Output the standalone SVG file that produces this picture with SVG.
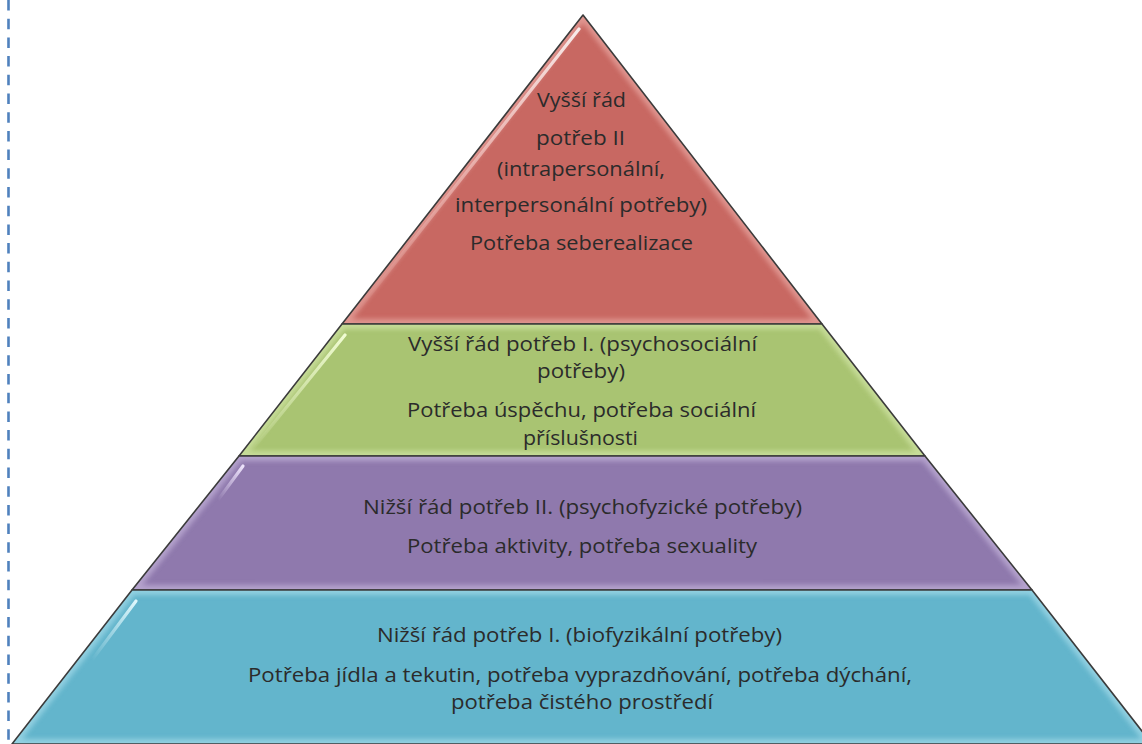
<svg xmlns="http://www.w3.org/2000/svg" width="1142" height="744" viewBox="0 0 1142 744">
  <style>
    .outline { stroke: #3b3b3b; stroke-width: 1.6; stroke-linejoin: round; }
    .glow { fill: none; stroke-width: 10; filter: url(#blur); }
    .t { font-family: "Open Sans", "Liberation Sans", sans-serif; font-size: 20px; fill: #2b2b2b; text-anchor: middle; }
    .hl { fill: none; stroke-width: 3.2; stroke-linecap: round; }
  </style>
  <defs>
    <filter id="blur" x="-10%" y="-10%" width="120%" height="120%">
      <feGaussianBlur stdDeviation="2.5"/>
    </filter>
    <clipPath id="cRed"><polygon points="583,15 822,324 342,324"/></clipPath>
    <clipPath id="cGreen"><polygon points="342,324 822,324 925,456 239,456"/></clipPath>
    <clipPath id="cPurple"><polygon points="239,456 925,456 1032,590 132,590"/></clipPath>
    <clipPath id="cBlue"><polygon points="132,590 1032,590 1152,744 12,744"/></clipPath>
    <linearGradient id="hlRed" x1="1" y1="0" x2="0" y2="1">
      <stop offset="0" stop-color="#ffffff" stop-opacity="0.85"/>
      <stop offset="0.5" stop-color="#ffe0dd" stop-opacity="0.45"/>
      <stop offset="1" stop-color="#ffe0dd" stop-opacity="0"/>
    </linearGradient>
    <linearGradient id="hlGreen" x1="1" y1="0" x2="0" y2="1">
      <stop offset="0" stop-color="#f4ffd8" stop-opacity="0.95"/>
      <stop offset="1" stop-color="#f4ffd8" stop-opacity="0"/>
    </linearGradient>
    <linearGradient id="hlPurple" x1="1" y1="0" x2="0" y2="1">
      <stop offset="0" stop-color="#f2e8ff" stop-opacity="0.95"/>
      <stop offset="1" stop-color="#f2e8ff" stop-opacity="0"/>
    </linearGradient>
    <linearGradient id="hlBlue" x1="1" y1="0" x2="0" y2="1">
      <stop offset="0" stop-color="#e6fbff" stop-opacity="0.95"/>
      <stop offset="1" stop-color="#e6fbff" stop-opacity="0"/>
    </linearGradient>
  </defs>

  <rect x="0" y="0" width="1142" height="744" fill="#ffffff"/>

  <!-- dashed left margin line -->
  <line x1="8.5" y1="0" x2="8.5" y2="744" stroke="#4f81bd" stroke-width="2.6" stroke-dasharray="10.5 8.2" stroke-dashoffset="0"/>

  <g id="layer-top">
    <polygon points="583,15 822,324 342,324" fill="#c86862"/>
    <g clip-path="url(#cRed)">
      <polygon class="glow" points="583,15 822,324 342,324" stroke="#e9a8a3" opacity="0.7"/>
    </g>
    <line class="hl" x1="579" y1="29" x2="352" y2="318" stroke="url(#hlRed)"/>
    <polygon class="outline" points="583,15 822,324 342,324" fill="none"/>
    <text class="t" x="581.5" y="107" textLength="89" lengthAdjust="spacingAndGlyphs">Vyšší řád</text>
    <text class="t" x="580.5" y="145" textLength="89" lengthAdjust="spacingAndGlyphs">potřeb II</text>
    <text class="t" x="581" y="176" textLength="168" lengthAdjust="spacingAndGlyphs">(intrapersonální,</text>
    <text class="t" x="581" y="212" textLength="252" lengthAdjust="spacingAndGlyphs">interpersonální potřeby)</text>
    <text class="t" x="581.5" y="250" textLength="223" lengthAdjust="spacingAndGlyphs">Potřeba seberealizace</text>
  </g>

  <g id="layer-2">
    <polygon points="342,324 822,324 925,456 239,456" fill="#a9c472"/>
    <g clip-path="url(#cGreen)">
      <polygon class="glow" points="342,324 822,324 925,456 239,456" stroke="#d3e6a8" opacity="0.7"/>
    </g>
    <line class="hl" x1="345" y1="335" x2="252" y2="450" stroke="url(#hlGreen)"/>
    <polygon class="outline" points="342,324 822,324 925,456 239,456" fill="none"/>
    <text class="t" x="582.5" y="351" textLength="349" lengthAdjust="spacingAndGlyphs">Vyšší řád potřeb I. (psychosociální</text>
    <text class="t" x="581" y="378" textLength="88" lengthAdjust="spacingAndGlyphs">potřeby)</text>
    <text class="t" x="581.5" y="417" textLength="349" lengthAdjust="spacingAndGlyphs">Potřeba úspěchu, potřeba sociální</text>
    <text class="t" x="580.5" y="445" textLength="115" lengthAdjust="spacingAndGlyphs">příslušnosti</text>
  </g>

  <g id="layer-3">
    <polygon points="239,456 925,456 1032,590 132,590" fill="#8f79ad"/>
    <g clip-path="url(#cPurple)">
      <polygon class="glow" points="239,456 925,456 1032,590 132,590" stroke="#c4b4da" opacity="0.7"/>
    </g>
    <line class="hl" x1="243" y1="466" x2="218" y2="500" stroke="url(#hlPurple)"/>
    <polygon class="outline" points="239,456 925,456 1032,590 132,590" fill="none"/>
    <text class="t" x="582.5" y="514" textLength="439" lengthAdjust="spacingAndGlyphs">Nižší řád potřeb II. (psychofyzické potřeby)</text>
    <text class="t" x="582" y="553" textLength="350" lengthAdjust="spacingAndGlyphs">Potřeba aktivity, potřeba sexuality</text>
  </g>

  <g id="layer-bottom">
    <polygon points="132,590 1032,590 1152,744 12,744" fill="#63b5cc"/>
    <g clip-path="url(#cBlue)">
      <polygon class="glow" points="132,590 1032,590 1152,744 12,744" stroke="#a6dcea" opacity="0.7"/>
    </g>
    <line class="hl" x1="136" y1="601" x2="92" y2="660" stroke="url(#hlBlue)"/>
    <polygon class="outline" points="132,590 1032,590 1152,744 12,744" fill="none"/>
    <text class="t" x="579.5" y="642" textLength="405" lengthAdjust="spacingAndGlyphs">Nižší řád potřeb I. (biofyzikální potřeby)</text>
    <text class="t" x="580" y="682" textLength="664" lengthAdjust="spacingAndGlyphs">Potřeba jídla a tekutin, potřeba vyprazdňování, potřeba dýchání,</text>
    <text class="t" x="582" y="709" textLength="262" lengthAdjust="spacingAndGlyphs">potřeba čistého prostředí</text>
  </g>
</svg>
